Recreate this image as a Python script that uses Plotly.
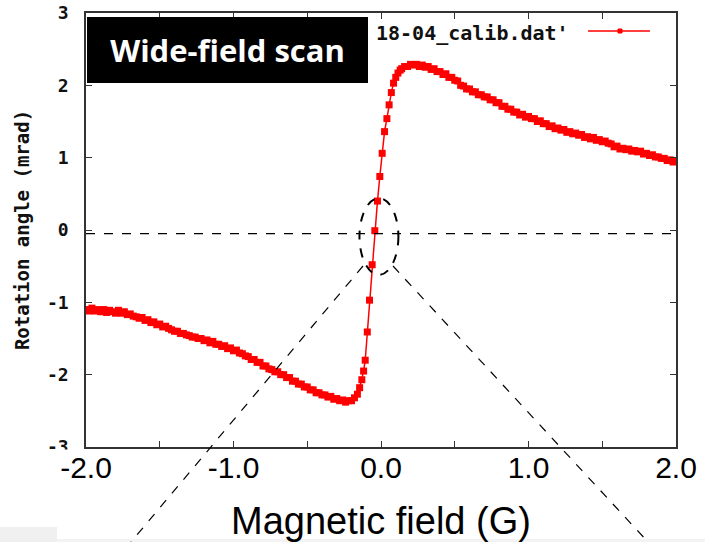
import plotly.graph_objects as go

# ---------------- data ----------------
field_left = [-2.00, -1.98, -1.96, -1.94, -1.92, -1.90, -1.88, -1.86, -1.84, -1.82,
              -1.80, -1.78, -1.76, -1.74, -1.72, -1.70, -1.68, -1.66, -1.64, -1.62,
              -1.60, -1.58, -1.56, -1.54, -1.52, -1.50, -1.48, -1.46, -1.44, -1.42,
              -1.40, -1.38, -1.36, -1.34, -1.32, -1.30, -1.28, -1.26, -1.24, -1.22,
              -1.20, -1.18, -1.16, -1.14, -1.12, -1.10, -1.08, -1.06, -1.04, -1.02,
              -1.00, -0.98, -0.96, -0.94, -0.92, -0.90, -0.88, -0.86, -0.84, -0.82,
              -0.80, -0.78, -0.76, -0.74, -0.72, -0.70, -0.68, -0.66, -0.64, -0.62,
              -0.60, -0.58, -0.56, -0.54, -0.52, -0.50, -0.48, -0.46, -0.44, -0.42,
              -0.40, -0.38, -0.36, -0.34, -0.32, -0.30, -0.28, -0.26, -0.24, -0.22,
              -0.20, -0.18]
angle_left = [-1.10, -1.12, -1.08, -1.12, -1.10, -1.13, -1.10, -1.14, -1.11, -1.13,
              -1.15, -1.11, -1.15, -1.13, -1.17, -1.16, -1.19, -1.20, -1.22, -1.21,
              -1.25, -1.24, -1.28, -1.27, -1.31, -1.30, -1.34, -1.33, -1.36, -1.38,
              -1.40, -1.40, -1.43, -1.43, -1.45, -1.46, -1.48, -1.48, -1.50, -1.50,
              -1.53, -1.52, -1.56, -1.54, -1.58, -1.58, -1.61, -1.60, -1.64, -1.63,
              -1.67, -1.66, -1.70, -1.71, -1.74, -1.75, -1.79, -1.79, -1.83, -1.83,
              -1.88, -1.88, -1.92, -1.93, -1.96, -1.96, -2.00, -2.00, -2.04, -2.04,
              -2.09, -2.09, -2.13, -2.13, -2.17, -2.17, -2.21, -2.21, -2.25, -2.25,
              -2.28, -2.28, -2.31, -2.30, -2.34, -2.33, -2.36, -2.35, -2.38, -2.36,
              -2.36, -2.32]

field_center = [-0.160, -0.145, -0.130, -0.118, -0.107, -0.093, -0.078, -0.060, -0.042, -0.024,
                -0.008, 0.008, 0.024, 0.040, 0.055, 0.070, 0.085, 0.100, 0.115, 0.130]
angle_center = [-2.27, -2.18, -2.07, -1.95, -1.80, -1.41, -0.97, -0.48, -0.01, 0.40,
                0.74, 1.06, 1.36, 1.54, 1.73, 1.90, 2.03, 2.11, 2.17, 2.21]

field_right = [0.14, 0.16, 0.18, 0.20, 0.22, 0.24, 0.26, 0.28, 0.30, 0.32,
               0.34, 0.36, 0.38, 0.40, 0.42, 0.44, 0.46, 0.48, 0.50, 0.52,
               0.54, 0.56, 0.58, 0.60, 0.62, 0.64, 0.66, 0.68, 0.70, 0.72,
               0.74, 0.76, 0.78, 0.80, 0.82, 0.84, 0.86, 0.88, 0.90, 0.92,
               0.94, 0.96, 0.98, 1.00, 1.02, 1.04, 1.06, 1.08, 1.10, 1.12,
               1.14, 1.16, 1.18, 1.20, 1.22, 1.24, 1.26, 1.28, 1.30, 1.32,
               1.34, 1.36, 1.38, 1.40, 1.42, 1.44, 1.46, 1.48, 1.50, 1.52,
               1.54, 1.56, 1.58, 1.60, 1.62, 1.64, 1.66, 1.68, 1.70, 1.72,
               1.74, 1.76, 1.78, 1.80, 1.82, 1.84, 1.86, 1.88, 1.90, 1.92,
               1.94, 1.96, 1.98, 2.00]
angle_right = [2.23, 2.26, 2.26, 2.29, 2.28, 2.29, 2.26, 2.28, 2.25, 2.26,
               2.22, 2.23, 2.19, 2.19, 2.15, 2.16, 2.11, 2.11, 2.07, 2.06,
               2.00, 1.99, 1.95, 1.95, 1.91, 1.91, 1.87, 1.87, 1.84, 1.84,
               1.80, 1.80, 1.76, 1.76, 1.71, 1.71, 1.67, 1.67, 1.63, 1.63,
               1.59, 1.60, 1.56, 1.57, 1.54, 1.54, 1.50, 1.51, 1.47, 1.47,
               1.43, 1.44, 1.40, 1.41, 1.38, 1.39, 1.35, 1.36, 1.33, 1.34,
               1.31, 1.32, 1.28, 1.29, 1.26, 1.28, 1.24, 1.25, 1.22, 1.23,
               1.20, 1.19, 1.15, 1.16, 1.12, 1.13, 1.11, 1.12, 1.09, 1.10,
               1.08, 1.09, 1.05, 1.06, 1.03, 1.04, 1.01, 1.01, 0.99, 0.99,
               0.96, 0.97, 0.94, 0.95]

x_ticks = [-2.0, -1.5, -1.0, -0.5, 0.0, 0.5, 1.0, 1.5, 2.0]
x_tick_text = ["-2.0", "", "-1.0", "", "0.0", "", "1.0", "", "2.0"]
y_ticks = [-3, -2, -1, 0, 1, 2, 3]
y_tick_text = ["-3", "-2", "-1", "0", "1", "2", "3"]

series_name = "18-04_calib.dat'"
panel_title = "Wide-field scan"
x_title = "Magnetic field (G)"
y_title = "Rotation angle (mrad)"
baseline = -0.05

field = field_left + field_center + field_right
angle = angle_left + angle_center + angle_right

# ---------------- layout geometry ----------------
W, H = 705, 542
PL, PR, PT, PB = 86, 676, 13, 447


def px(xp):
    return (xp - PL) / (PR - PL)


def py(yp):
    return (PB - yp) / (PB - PT)


MONO = "DejaVu Sans Mono"
RED = "#ff0000"
FRAME = "#333333"

fig = go.Figure()
fig.add_trace(go.Scatter(
    x=field, y=angle, mode="lines+markers", name=series_name,
    line=dict(color=RED, width=1.5),
    marker=dict(color=RED, size=7, symbol="square"),
    showlegend=False,
))

shapes = [
    # dashed zero reference line
    dict(type="line", xref="x", yref="y", x0=-2, x1=2, y0=baseline, y1=baseline,
         line=dict(color="black", width=1.2, dash="dash"), layer="above"),
    # dashed ellipse around the zero crossing
    dict(type="circle", xref="x", yref="y", x0=-0.146, x1=0.118, y0=-0.62, y1=0.44,
         line=dict(color="black", width=2, dash="dash"), layer="above"),
    # zoom guide lines
    dict(type="line", xref="paper", yref="paper", x0=px(363), y0=py(266), x1=px(131), y1=py(542),
         line=dict(color="black", width=1.2, dash="dash"), layer="above"),
    dict(type="line", xref="paper", yref="paper", x0=px(393), y0=py(266), x1=px(648), y1=py(542),
         line=dict(color="black", width=1.2, dash="dash"), layer="above"),
    # legend sample
    dict(type="line", xref="paper", yref="paper", x0=px(588), y0=py(31), x1=px(650), y1=py(31),
         line=dict(color=RED, width=1.5), layer="above"),
    dict(type="rect", xref="paper", yref="paper", x0=px(618), y0=py(29), x1=px(622), y1=py(33),
         line=dict(color=RED, width=1), fillcolor=RED, layer="above"),
    # white cover that clips the lowest y label like the pasted panel
    dict(type="rect", xref="paper", yref="paper", x0=px(20), y0=py(449.5), x1=px(80), y1=py(455),
         line=dict(width=0), fillcolor="white", layer="above"),
    # light grey slivers at the bottom edge
    dict(type="rect", xref="paper", yref="paper", x0=px(0), y0=py(527), x1=px(57), y1=py(542),
         line=dict(width=0), fillcolor="#f0f0f0", layer="below"),
    dict(type="rect", xref="paper", yref="paper", x0=px(57), y0=py(539), x1=px(705), y1=py(542),
         line=dict(width=0), fillcolor="#f3f3f3", layer="below"),
]

annotations = [
    dict(text=series_name, xref="paper", yref="paper", x=px(571), y=py(33),
         xanchor="right", yanchor="middle", showarrow=False,
         font=dict(family=MONO, size=20, color="#111111", weight="bold")),
    dict(text="<b>" + panel_title + "</b>", xref="paper", yref="paper", x=px(87), y=py(17),
         xanchor="left", yanchor="top", showarrow=False, width=281, height=66,
         bgcolor="black", borderpad=0, borderwidth=0, align="center", valign="middle",
         font=dict(family="Open Sans", size=31, color="white")),
]

fig.update_layout(
    width=W, height=H,
    margin=dict(l=PL, r=W - PR, t=PT, b=H - PB, pad=0),
    paper_bgcolor="white", plot_bgcolor="white",
    shapes=shapes, annotations=annotations,
    xaxis=dict(
        range=[-2, 2], tickvals=x_ticks, ticktext=x_tick_text,
        ticks="inside", ticklen=6, tickwidth=1.2, tickcolor=FRAME,
        showline=True, linecolor=FRAME, linewidth=1.5, mirror="ticks",
        showgrid=False, zeroline=False,
        tickfont=dict(family="Liberation Sans", size=30, color="black"),
        ticklabelstandoff=-7,
        title=dict(text=x_title, standoff=25,
                   font=dict(family="Liberation Sans", size=38, color="black")),
        automargin=False,
    ),
    yaxis=dict(
        range=[-3, 3], tickvals=y_ticks, ticktext=y_tick_text,
        ticks="inside", ticklen=6, tickwidth=1.2, tickcolor=FRAME,
        showline=True, linecolor=FRAME, linewidth=1.5, mirror="ticks",
        showgrid=False, zeroline=False,
        tickfont=dict(family=MONO, size=18, color="#111111", weight="bold"),
        ticklabelstandoff=12,
        title=dict(text=y_title, standoff=12,
                   font=dict(family=MONO, size=19, color="#111111", weight="bold")),
        automargin=False,
    ),
)

fig.write_html("out.html", config={"displayModeBar": False},
               post_script="document.body.style.margin='0';")
